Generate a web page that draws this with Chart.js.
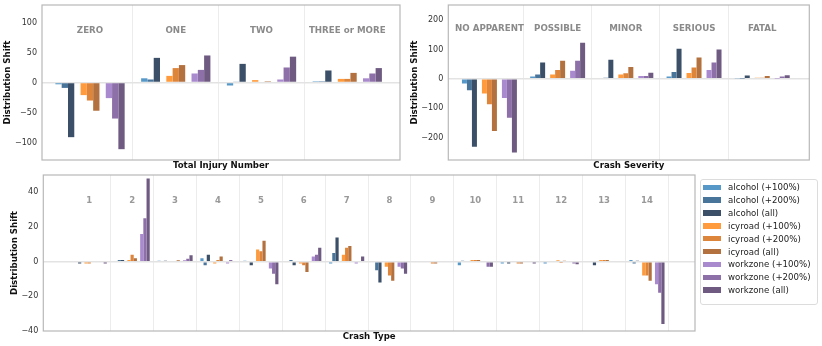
<!DOCTYPE html>
<html>
<head>
<meta charset="utf-8">
<script src="https://cdn.jsdelivr.net/npm/chart.js@4.4.1/dist/chart.umd.min.js"></script>
<style>
  body { margin: 0; background: #fff; font-family: 'DejaVu Sans', sans-serif; }
  #wrap { position: relative; width: 822px; height: 346px; overflow: hidden; }
  .box { position: absolute; }
  #legend { position: absolute; left: 700px; top: 179px; width: 118px; height: 126px;
            border: 1px solid #dcdcdc; border-radius: 3px; box-sizing: border-box;
            font-size: 8.6px; color: #222; }
  .item { position: absolute; left: 2px; height: 12px; display: flex; align-items: center; white-space: nowrap; }
  .sw { width: 18px; height: 5.5px; margin-right: 7px; }
</style>
</head>
<body>
<div id="wrap">
  <div class="box" style="left:0;top:0;width:410px;height:172px"><canvas id="injury"></canvas></div>
  <div class="box" style="left:407px;top:0;width:415px;height:172px"><canvas id="severity"></canvas></div>
  <div class="box" style="left:0;top:170px;width:697px;height:176px"><canvas id="crashType"></canvas></div>
  <div id="legend"></div>
</div>
<script>
// series names / colours (same for all three panels)
const seriesNames = ['alcohol (+100%)', 'alcohol (+200%)', 'alcohol (all)',
                     'icyroad (+100%)', 'icyroad (+200%)', 'icyroad (all)',
                     'workzone (+100%)', 'workzone (+200%)', 'workzone (all)'];
const seriesColors = ['#5698c8', '#4a759b', '#3b4f68',
                      '#ff9b3c', '#de853c', '#b2713e',
                      '#aa8ace', '#8e70a8', '#6f5b82'];

// Total Injury Number
const injuryCats = ['ZERO', 'ONE', 'TWO', 'THREE or MORE'];
const injAlcohol100 = [-3, 7, -5, 2];
const injAlcohol200 = [-9, 5, 1.5, 2];
const injAlcoholAll = [-91, 41, 31, 20];
const injIcy100 = [-21, 11, 4, 6];
const injIcy200 = [-30, 24, 0, 6];
const injIcyAll = [-47, 29, 2, 16];
const injWork100 = [-26, 15, 5, 7];
const injWork200 = [-60, 21, 25, 15];
const injWorkAll = [-111, 45, 43, 24];

// Crash Severity
const severityCats = ['NO APPARENT', 'POSSIBLE', 'MINOR', 'SERIOUS', 'FATAL'];
const sevAlcohol100 = [-16, 8, 3, 8, 2];
const sevAlcohol200 = [-39, 15, 4, 23, 1];
const sevAlcoholAll = [-232, 56, 65, 103, 11];
const sevIcy100 = [-50, 15, 15, 20, 4];
const sevIcy200 = [-87, 30, 19, 39, 4];
const sevIcyAll = [-178, 62, 40, 73, 10];
const sevWork100 = [-65, 28, 10, 30, 1];
const sevWork200 = [-133, 62, 10, 56, 8];
const sevWorkAll = [-251, 123, 21, 100, 12];

// Crash Type 1..14
const crashCats = ['1', '2', '3', '4', '5', '6', '7', '8', '9', '10', '11', '12', '13', '14'];
const ctAlcohol100 = [0, 0, 0.6, 2, 0.6, 0, -1, 0, 0, -2, -1, -1, 0, 1];
const ctAlcohol200 = [0, 1, 0, -2, 0, 1, 5, -5, 0, 0.5, 0, 0, 0, -1];
const ctAlcoholAll = [-1, 1, 0.6, 4, -2, -2, 14, -12, 0, -0.5, -1, 0, -2, 0.5];
const ctIcy100 = [-1, 1, 0, -1, 7, -1, 4, -3, 0, 1, 0, 0.8, 1, -8];
const ctIcy200 = [-1, 4, 0, 1, 6, -2, 8, -8, -1, 1, -1, -0.8, 1, -8];
const ctIcyAll = [0, 2, 0.8, 3, 12, -6, 9, -11, -1, 1, -1, 0.6, 1, -11];
const ctWork100 = [0, 16, 0.8, -1, -4, 3, -1, -3, 0, 0, 0, 0, 0, -13];
const ctWork200 = [0, 25, 1.7, 1, -7, 4, 0, -4, 0, -3, 0, -1, 0, -18];
const ctWorkAll = [-1, 48, 3.7, 0, -13, 8, 3, -7, 0, -3, -1, -1.5, 0, -36];

Chart.defaults.font.family = "'DejaVu Sans', sans-serif";
Chart.defaults.color = '#333';

const minus = v => (v < 0 ? '\u2212' + Math.abs(v) : '' + v);

function panel(id, cats, series, cfg) {
  const datasets = [];
  series.forEach((vals, k) => {
    // empty slot between the alcohol / icyroad / workzone groups
    if (k === 3 || k === 6) datasets.push({ label: '', data: [], backgroundColor: 'rgba(0,0,0,0)' });
    datasets.push({
      label: seriesNames[k],
      data: vals.map((v, i) => ({ x: cfg.x0 + i, y: v })),
      backgroundColor: seriesColors[k]
    });
  });

  const bounds = [];
  for (let b = cfg.gridFrom; b <= cfg.gridTo; b++) bounds.push(b + 0.5);

  new Chart(document.getElementById(id), {
    type: 'bar',
    data: { datasets },
    options: {
      animation: false,
      responsive: true,
      maintainAspectRatio: false,
      datasets: { bar: { categoryPercentage: cfg.catPct, barPercentage: 1, borderWidth: 0 } },
      layout: { padding: { top: 5, right: cfg.padRight, left: 0, bottom: 0 } },
      plugins: { legend: { display: false }, tooltip: { enabled: false } },
      scales: {
        x: {
          type: 'linear',
          offset: false,
          min: cfg.xmin, max: cfg.xmax,
          afterBuildTicks: s => { s.ticks = bounds.map(v => ({ value: v })); },
          afterFit: s => { s.height = cfg.xHeight; s.paddingLeft = 0; s.paddingRight = 0; },
          ticks: { display: false },
          grid: { offset: false, color: '#ececec', lineWidth: 1, drawTicks: false },
          border: { display: false },
          title: { display: true, text: cfg.xTitle, font: { size: 8.6, weight: 'bold' },
                   color: '#111', padding: { top: 0, bottom: cfg.xTitlePad } }
        },
        y: {
          min: cfg.ymin, max: cfg.ymax,
          afterFit: s => { s.width = cfg.yWidth; s.paddingTop = 0; s.paddingBottom = 0; },
          ticks: { stepSize: cfg.step, includeBounds: false, padding: 5, font: { size: 8 }, color: '#333',
                   callback: v => minus(v) },
          grid: { drawTicks: false, lineWidth: 1.5,
                  color: c => (c.tick && c.tick.value === 0 ? '#e3e3e3' : 'rgba(0,0,0,0)') },
          border: { display: false },
          title: { display: true, text: 'Distribution Shift', font: { size: 8.6, weight: 'bold' },
                   color: '#111', padding: { top: cfg.yTitlePad, bottom: 0 } }
        }
      }
    },
    plugins: [{
      id: 'frameAndCats',
      afterDatasetsDraw(chart) {
        const { ctx, chartArea: a, scales: { x } } = chart;
        ctx.save();
        ctx.font = cfg.catFont;
        ctx.fillStyle = cfg.catColor;
        ctx.textAlign = 'center';
        ctx.textBaseline = 'middle';
        cats.forEach((c, i) => ctx.fillText(c, x.getPixelForValue(cfg.x0 + i), a.top + cfg.catDy));
        ctx.strokeStyle = '#b8b8b8';
        ctx.lineWidth = 1.2;
        ctx.strokeRect(a.left, a.top, a.right - a.left, a.bottom - a.top);
        ctx.restore();
      }
    }]
  });
}

panel('injury', injuryCats,
  [injAlcohol100, injAlcohol200, injAlcoholAll, injIcy100, injIcy200, injIcyAll, injWork100, injWork200, injWorkAll],
  { x0: 0, xmin: -0.56, xmax: 3.615, gridFrom: 0, gridTo: 2, catPct: 0.808,
    ymin: -129, ymax: 129, step: 50, yWidth: 42, padRight: 10, xHeight: 12,
    xTitle: 'Total Injury Number', xTitlePad: 1.1, yTitlePad: 2.8,
    catFont: 'bold 8.7px "DejaVu Sans"', catColor: '#8a8a8a', catDy: 26 });

panel('severity', severityCats,
  [sevAlcohol100, sevAlcohol200, sevAlcoholAll, sevIcy100, sevIcy200, sevIcyAll, sevWork100, sevWork200, sevWorkAll],
  { x0: 0, xmin: -0.603, xmax: 4.69, gridFrom: 0, gridTo: 3, catPct: 0.806,
    ymin: -277, ymax: 252, step: 100, yWidth: 41.3, padRight: 12.7, xHeight: 12,
    xTitle: 'Crash Severity', xTitlePad: 1.1, yTitlePad: 2.8,
    catFont: 'bold 8.7px "DejaVu Sans"', catColor: '#8a8a8a', catDy: 24 });

panel('crashType', crashCats,
  [ctAlcohol100, ctAlcohol200, ctAlcoholAll, ctIcy100, ctIcy200, ctIcyAll, ctWork100, ctWork200, ctWorkAll],
  { x0: 1, xmin: -0.071, xmax: 15.12, gridFrom: 1, gridTo: 14, catPct: 0.82,
    ymin: -40, ymax: 50, step: 20, yWidth: 43.3, padRight: 2, xHeight: 15,
    xTitle: 'Crash Type', xTitlePad: 4.1, yTitlePad: 9.8,
    catFont: 'bold 8.5px "DejaVu Sans"', catColor: '#999', catDy: 25.7 });

// legend box on the right of the bottom panel
const legend = document.getElementById('legend');
seriesNames.forEach((name, k) => {
  const row = document.createElement('div');
  row.className = 'item';
  row.style.top = (1.3 + 12.85 * k) + 'px';
  row.innerHTML = '<span class="sw" style="background:' + seriesColors[k] + '"></span>' + name;
  legend.appendChild(row);
});
</script>
</body>
</html>
